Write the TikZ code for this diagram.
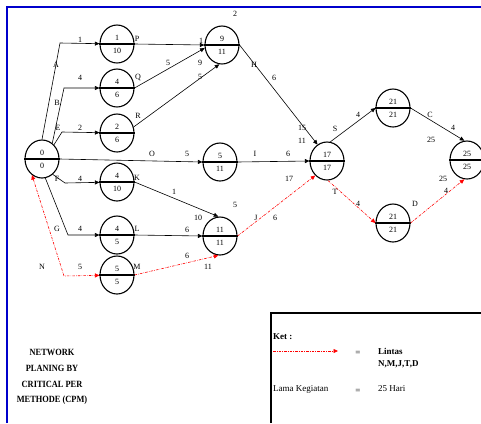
\documentclass[tikz,border=0pt]{standalone}
\usepackage{fontspec}
\setmainfont{Liberation Serif}
\newfontfamily\titlefont[FakeStretch=0.88]{Liberation Serif}
\usetikzlibrary{shapes.geometric,arrows.meta}
\definecolor{frameblue}{RGB}{0,0,204}
\definecolor{critred}{RGB}{255,0,0}

% event node: name, x, y, earliest time, latest time
\newcommand\eventnode[5]{%
  \node[evt] (#1) at (#2,#3) {};
  \draw[line width=1.1pt] (#1.west) -- (#1.east);
  \node[num] (#1-t) at ([yshift=6.5pt]#1.center) {#4};
  \node[num] (#1-b) at ([yshift=-7pt]#1.center) {#5};}
% activity label: name, x, y, text
\newcommand\actlabel[4]{\node[lbl] (#1) at (#2,#3) {#4};}

\begin{document}
\begin{tikzpicture}[x=1pt,y=-1pt,
  evt/.style={ellipse,draw,line width=1.1pt,minimum width=34pt,minimum height=38pt,inner sep=0pt},
  num/.style={font=\fontsize{8}{9}\selectfont,inner sep=0pt},
  lbl/.style={font=\fontsize{8}{9}\selectfont,inner sep=0pt},
  tip/.tip={Triangle[length=4.5pt,width=4pt]},
  act/.style={line width=0.6pt,-tip},
  crit/.style={critred,line width=0.6pt,dash pattern=on 2.5pt off 1.2pt on 0.6pt off 1.2pt},
  legtxt/.style={font=\fontsize{9}{11}\selectfont,inner sep=0pt,anchor=west}]
\useasboundingbox (0,0) rectangle (481,423);

% frame and legend box
\draw[frameblue,line width=2pt] (7,423) -- (7,7) -- (481,7);
\draw[line width=2pt] (271,423) -- (271,313) -- (481,313);

% events
\eventnode{n0}{42}{159}{0}{0}
\eventnode{P}{117}{44}{1}{10}
\eventnode{Q}{117}{88}{4}{6}
\eventnode{R}{117}{133}{2}{6}
\eventnode{K}{117}{182}{4}{10}
\eventnode{L}{117}{235}{4}{5}
\eventnode{M}{117}{275}{5}{5}
\eventnode{n9}{222}{45}{9}{11}
\eventnode{n5}{220}{162}{5}{11}
\eventnode{n11}{220}{236}{11}{11}
\eventnode{n17}{327}{161}{17}{17}
\eventnode{n21}{393}{108}{21}{21}
\eventnode{nD}{393}{223}{21}{21}
\eventnode{n25}{467}{160}{25}{25}

% bend points of the activities leaving event 0
\coordinate (cA) at (60,43);
\coordinate (cB) at (64,88);
\coordinate (cE) at (62,132);
\coordinate (cF) at (65,183);
\coordinate (cG) at (68,235);
\coordinate (cN) at (64,276);

% activities
\draw[act] (n0.90) -- (cA) -- (P);
\draw[act] (n0.57) -- (cB) -- (Q);
\draw[act] (n0.50) -- (cE) -- (R);
\draw[act] (n0.-55) -- (cF) -- (K);
\draw[act] (n0.-80) -- (cG) -- (L);
\draw[crit,tip-tip] (n0.-122) -- (cN) -- (M);
\draw[act] (P.east) -- (n9.west);
\draw[act] (Q.east) -- (n9.190);
\draw[act] (R.20) -- (n9.-98);
\draw[act] (n9.east) -- (n17.120);
\draw[act] (n0.east) -- (n5.west);
\draw[act] (n5.east) -- (n17.west);
\draw[act] (K.east) -- (n11.95);
\draw[act] (L.east) -- (n11.west);
\draw[crit,-tip] (M.east) -- (n11.-95);
\draw[crit,-tip] (n11.east) -- (n17.-129);
\draw[act] (n17.80) -- (n21.west);
\draw[act] (n21.east) -- (n25.98);
\draw[crit,-tip] (n17.-87) -- (nD.west);
\draw[crit,-tip] (nD.east) -- (n25.-98);

% activity names and durations
\actlabel{l1}{80}{40}{1}
\actlabel{l2}{56}{65}{A}
\actlabel{l3}{80}{78}{4}
\actlabel{l4}{57}{103}{B}
\actlabel{l5}{80}{128}{2}
\actlabel{l6}{58}{128}{E}
\actlabel{l7}{137}{39}{P}
\actlabel{l8}{138}{77}{Q}
\actlabel{l9}{138}{116}{R}
\actlabel{l10}{201}{41}{1}
\actlabel{l11}{168}{63}{5}
\actlabel{l12}{200}{63}{9}
\actlabel{l13}{200}{77}{5}
\actlabel{l14}{235}{14}{2}
\actlabel{l15}{254}{65}{H}
\actlabel{l16}{274}{78}{6}
\actlabel{l17}{302}{128}{15}
\actlabel{l18}{302}{141}{11}
\actlabel{l19}{152}{154}{O}
\actlabel{l20}{187}{154}{5}
\actlabel{l21}{255}{154}{I}
\actlabel{l22}{288}{154}{6}
\actlabel{l23}{289}{179}{17}
\actlabel{l24}{57}{179}{F}
\actlabel{l25}{80}{179}{4}
\actlabel{l26}{137}{178}{K}
\actlabel{l27}{174}{192}{1}
\actlabel{l28}{198}{218}{10}
\actlabel{l29}{235}{205}{5}
\actlabel{l30}{57}{229}{G}
\actlabel{l31}{80}{229}{4}
\actlabel{l32}{137}{229}{L}
\actlabel{l33}{187}{230}{6}
\actlabel{l34}{42}{267}{N}
\actlabel{l35}{80}{267}{5}
\actlabel{l36}{137}{267}{M}
\actlabel{l37}{187}{256}{6}
\actlabel{l38}{208}{267}{11}
\actlabel{l39}{256}{218}{J}
\actlabel{l40}{275}{218}{6}
\actlabel{l41}{335}{129}{S}
\actlabel{l42}{358}{115}{4}
\actlabel{l43}{430}{115}{C}
\actlabel{l44}{453}{128}{4}
\actlabel{l45}{431}{140}{25}
\actlabel{l46}{335}{192}{T}
\actlabel{l47}{358}{204}{4}
\actlabel{l48}{415}{204}{D}
\actlabel{l49}{446}{191}{4}
\actlabel{l50}{443}{179}{25}

% title
\node[font=\titlefont\bfseries\fontsize{9.5}{15.8}\selectfont,align=center,inner sep=0pt]
  (title) at (52,377) {NETWORK\\PLANING BY\\CRITICAL PER\\METHODE (CPM)};

% legend
\node[legtxt,font=\bfseries\fontsize{9}{11}\selectfont] (ket) at (273,337) {Ket :};
\coordinate (legA) at (273,351);
\coordinate (legB) at (338,351);
\draw[crit,-tip] (legA) -- (legB);
\node[legtxt,anchor=center] (eq1) at (358,353) {=};
\node[legtxt,font=\bfseries\fontsize{9}{11}\selectfont] (lintas) at (378,351) {Lintas};
\node[legtxt,font=\bfseries\fontsize{9}{11}\selectfont] (path) at (378,364) {N,M,J,T,D};
\node[legtxt] (lama) at (273,389) {Lama Kegiatan};
\node[legtxt,anchor=center] (eq2) at (358,391) {=};
\node[legtxt] (hari) at (378,389) {25 Hari};
\end{tikzpicture}
\end{document}
